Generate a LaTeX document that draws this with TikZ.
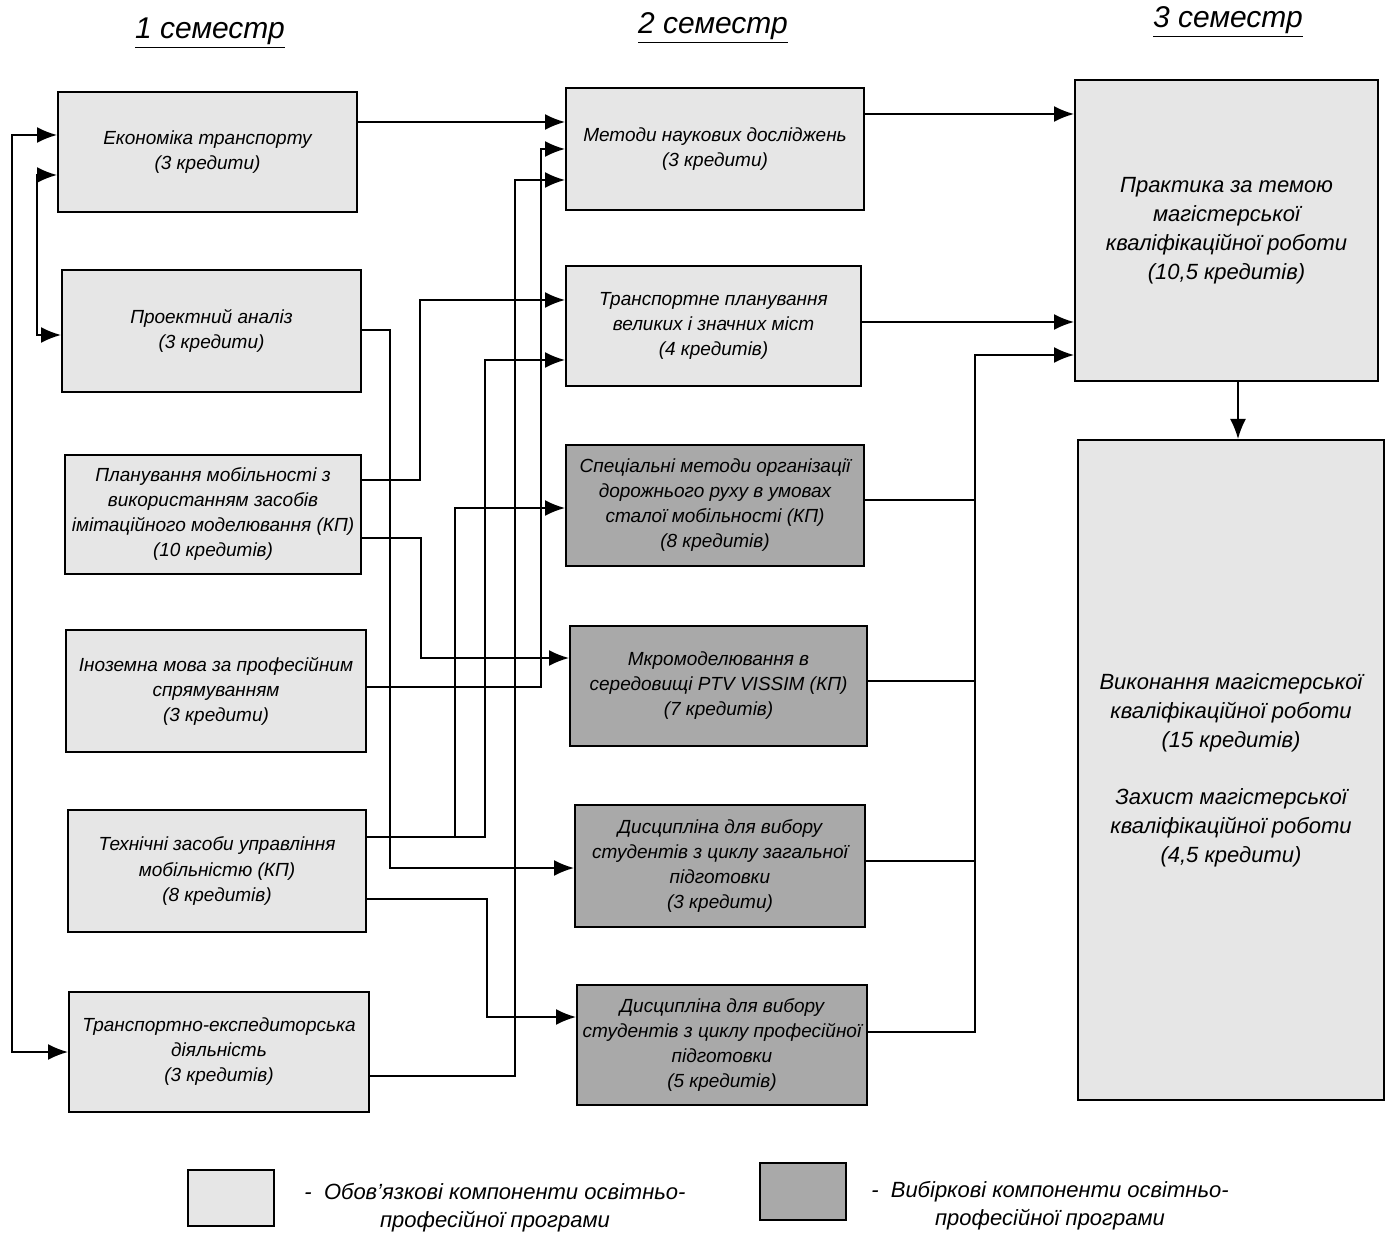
\documentclass[tikz,border=0pt]{standalone}
\usepackage{fontspec}
\setmainfont{Liberation Sans}
\usetikzlibrary{arrows.meta}
\definecolor{lightfill}{HTML}{E6E6E6}
\definecolor{darkfill}{HTML}{A9A9A9}
\begin{document}
\begin{tikzpicture}[x=0.5pt,y=-0.5pt,
  box/.style={draw=black, line width=1pt, fill=lightfill, align=center,
    font=\itshape\fontsize{9.5}{12.5}\selectfont, inner sep=0pt},
  optbox/.style={box, fill=darkfill},
  bigbox/.style={box, font=\itshape\fontsize{11}{14.5}\selectfont},
  title/.style={font=\itshape\fontsize{15}{18}\selectfont, inner sep=0pt},
  legend/.style={font=\itshape\fontsize{11}{14}\selectfont, align=center, inner sep=0pt},
  arr/.style={line width=0.9pt, -{Latex[length=10pt,width=8pt]}},
  barr/.style={line width=0.9pt, {Latex[length=10pt,width=8pt]}-{Latex[length=10pt,width=8pt]}},
  ln/.style={line width=0.9pt}]

\useasboundingbox (0,0) rectangle (1388,1241);

% titles
\node[title] (t1) at (210,33) {\underline{1 семестр}};
\node[title] (t2) at (713,28) {\underline{2 семестр}};
\node[title] (t3) at (1228,22) {\underline{3 семестр}};

% column 1
\node[box, minimum width=149.5pt, minimum height=60pt] (A1) at (207.5,152)
  {Економіка транспорту\\(3 кредити)};
\node[box, minimum width=149.5pt, minimum height=61pt] (A2) at (211.5,331)
  {Проектний аналіз\\(3 кредити)};
\node[box, minimum width=148pt, minimum height=59.5pt] (A3) at (213,514.5)
  {Планування мобільності з\\використанням засобів\\імітаційного моделювання (КП)\\(10 кредитів)};
\node[box, minimum width=150pt, minimum height=61pt] (A4) at (216,691)
  {Іноземна мова за професійним\\спрямуванням\\(3 кредити)};
\node[box, minimum width=149pt, minimum height=61pt] (A5) at (217,871)
  {Технічні засоби управління\\мобільністю (КП)\\(8 кредитів)};
\node[box, minimum width=150pt, minimum height=60pt] (A6) at (219,1052)
  {Транспортно-експедиторська\\діяльність\\(3 кредитів)};

% column 2
\node[box, minimum width=149pt, minimum height=61pt] (B1) at (715,149)
  {Методи наукових досліджень\\(3 кредити)};
\node[box, minimum width=147.5pt, minimum height=60pt] (B2) at (713.5,326)
  {Транспортне планування\\великих і значних міст\\(4 кредитів)};
\node[optbox, minimum width=149pt, minimum height=60.5pt] (B3) at (715,505.5)
  {Спеціальні методи організації\\дорожнього руху в умовах\\сталої мобільності (КП)\\(8 кредитів)};
\node[optbox, minimum width=148.5pt, minimum height=60pt] (B4) at (718.5,686)
  {Мкромоделювання в\\середовищі PTV VISSIM (КП)\\(7 кредитів)};
\node[optbox, minimum width=145pt, minimum height=61pt] (B5) at (720,866)
  {Дисципліна для вибору\\студентів з циклу загальної\\підготовки\\(3 кредити)};
\node[optbox, minimum width=145pt, minimum height=60pt] (B6) at (722,1045)
  {Дисципліна для вибору\\студентів з циклу професійної\\підготовки\\(5 кредитів)};

% column 3
\node[bigbox, minimum width=151.5pt, minimum height=150.5pt] (C1) at (1226.5,230.5)
  {Практика за темою\\магістерської\\кваліфікаційної роботи\\(10,5 кредитів)};
\node[bigbox, minimum width=153pt, minimum height=330pt] (C2) at (1231,770)
  {Виконання магістерської\\кваліфікаційної роботи\\(15 кредитів)\\[14pt]Захист магістерської\\кваліфікаційної роботи\\(4,5 кредити)};

% legend
\node[box, minimum width=43pt, minimum height=28pt] (L1) at (231,1198) {};
\node[optbox, minimum width=43pt, minimum height=28.5pt] (L2) at (803,1191.5) {};
\node[legend] (L1t) at (495,1208) {- \ Обов’язкові компоненти освітньо-\\професійної програми};
\node[legend] (L2t) at (1050,1206) {- \ Вибіркові компоненти освітньо-\\професійної програми};

% left brackets
\draw[barr] (A1.west |- 0,135) -- (12,135) -- (12,1052) -- (A6.west |- 0,1052);
\draw[barr] (A1.west |- 0,175) -- (37,175) -- (37,335) -- (A2.west |- 0,335);

% column 1 -> column 2
\draw[arr] (A1.east |- 0,122) -- (B1.west |- 0,122);
\draw[arr] (A2.east |- 0,330) -- (390,330) -- (390,868) -- (B5.west |- 0,868);
\draw[arr] (A3.east |- 0,480) -- (420,480) -- (420,300) -- (B2.west |- 0,300);
\draw[arr] (A3.east |- 0,538) -- (421,538) -- (421,658) -- (B4.west |- 0,658);
\draw[arr] (A4.east |- 0,687) -- (541,687) -- (541,149) -- (B1.west |- 0,149);
\draw[arr] (A5.east |- 0,837) -- (485,837) -- (485,360) -- (B2.west |- 0,360);
\draw[arr] (455,837) -- (455,508) -- (B3.west |- 0,508);
\draw[arr] (A5.east |- 0,899) -- (487,899) -- (487,1017) -- (B6.west |- 0,1017);
\draw[arr] (A6.east |- 0,1076) -- (515,1076) -- (515,180) -- (B1.west |- 0,180);

% column 2 -> column 3
\draw[arr] (B1.east |- 0,114) -- (C1.west |- 0,114);
\draw[arr] (B2.east |- 0,322) -- (C1.west |- 0,322);
\draw[ln] (B3.east |- 0,500) -- (975,500);
\draw[ln] (B4.east |- 0,681) -- (975,681);
\draw[ln] (B5.east |- 0,861) -- (975,861);
\draw[arr] (B6.east |- 0,1032) -- (975,1032) -- (975,355) -- (C1.west |- 0,355);
\draw[arr] (1238,0 |- C1.south) -- (1238,0 |- C2.north);
\end{tikzpicture}
\end{document}
